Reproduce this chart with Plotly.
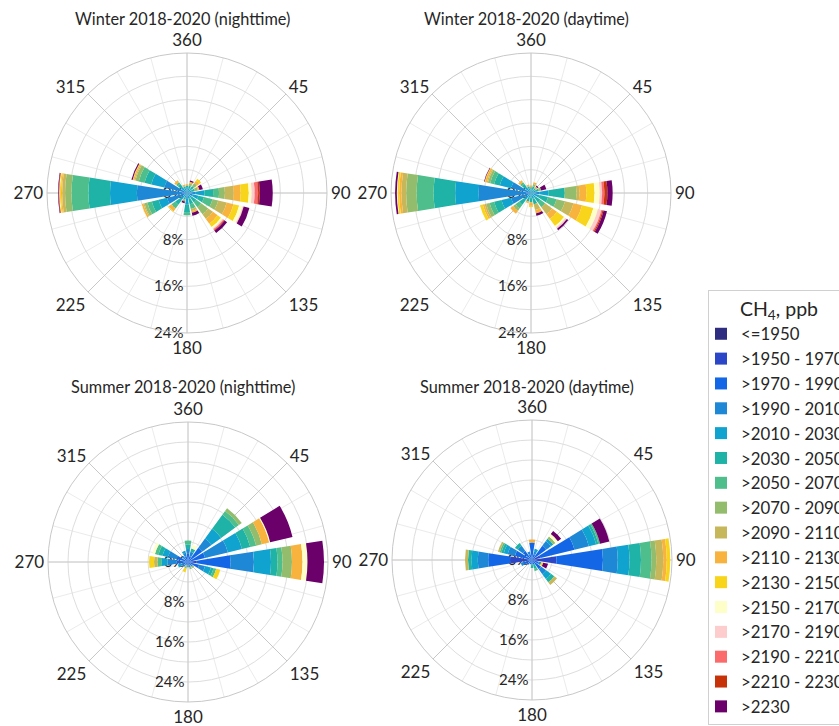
import plotly.graph_objects as go

W, H = 839, 726

DIRECTIONS = [0, 22.5, 45, 67.5, 90, 112.5, 135, 157.5,
              180, 202.5, 225, 247.5, 270, 292.5, 315, 337.5]

CLASSES = ["<=1950", ">1950 - 1970", ">1970 - 1990", ">1990 - 2010",
           ">2010 - 2030", ">2030 - 2050", ">2050 - 2070", ">2070 - 2090",
           ">2090 - 2110", ">2110 - 2130", ">2130 - 2150", ">2150 - 2170",
           ">2170 - 2190", ">2190 - 2210", ">2210 - 2230", ">2230"]

COLORS = ["#2e2d80", "#2b47c7", "#1367e6", "#1e88d6", "#11a3cf", "#1fb3a8",
          "#4dbe8c", "#93bd6c", "#c6b85a", "#f8b33e", "#f8d51b", "#fefec8",
          "#fdcccc", "#fb6b6b", "#c83208", "#6b006a"]

ANGLE_TICKS = [0, 45, 90, 135, 180, 225, 270, 315]
ANGLE_LABELS = ["360", "45", "90", "135", "180", "225", "270", "315"]
RADIAL_TICKS = [0, 8, 16, 24]
RADIAL_LABELS = ["0%", "8%", "16%", "24%"]
RADIAL_MAX = [24, 24, 28, 28]

TITLES = ["Winter 2018-2020 (nighttime)", "Winter 2018-2020 (daytime)",
          "Summer 2018-2020 (nighttime)", "Summer 2018-2020 (daytime)"]

# per direction: (class index, cumulative outer edge in %)
WINTER_NIGHT = [
    [(3, 0.6), (4, 1.0), (5, 1.3), (9, 1.5)],
    [(4, 0.8), (5, 1.3), (7, 1.7), (9, 2.0), (15, 2.2)],
    [(4, 0.8), (5, 1.5), (7, 2.1), (9, 2.6), (10, 3.0)],
    [(4, 0.8), (5, 1.4), (7, 1.9), (9, 2.2), (15, 2.8)],
    [(3, 1.5), (4, 3.0), (5, 4.5), (6, 5.5), (7, 6.5), (8, 8.0), (9, 9.2),
     (10, 10.6), (11, 11.1), (12, 11.6), (13, 12.2), (14, 12.5), (15, 14.7)],
    [(3, 1.0), (4, 2.0), (5, 3.0), (6, 4.5), (7, 5.5), (8, 7.0), (9, 8.2),
     (10, 9.2), (11, 9.8), (12, 10.0), (15, 11.0)],
    [(4, 1.0), (5, 2.0), (6, 3.0), (7, 4.5), (8, 5.5), (9, 6.5), (10, 7.2),
     (11, 7.5), (12, 7.7), (13, 7.9), (14, 8.0), (15, 8.5)],
    [(4, 1.0), (5, 2.0), (6, 2.8), (8, 3.2), (9, 3.5), (15, 4.0)],
    [(3, 1.0), (4, 2.0), (5, 3.4), (6, 3.8)],
    [(4, 0.8), (5, 1.2), (7, 1.5), (15, 1.8)],
    [(4, 1.5), (5, 2.5), (6, 3.3), (9, 3.9), (10, 4.0)],
    [(3, 3.5), (4, 5.0), (5, 6.2), (6, 7.0), (7, 7.5), (8, 7.7), (9, 8.0),
     (11, 8.1)],
    [(2, 0.8), (3, 8.6), (4, 13.2), (5, 16.9), (6, 19.8), (7, 20.9), (8, 21.4),
     (9, 21.6), (10, 21.8), (11, 21.9), (14, 22.0), (15, 22.1)],
    [(3, 4.0), (4, 6.3), (5, 7.5), (6, 8.5), (7, 9.1), (8, 9.3), (9, 9.5),
     (10, 9.6), (15, 9.8)],
    [(4, 1.2), (5, 1.9), (6, 2.3), (9, 2.7)],
    [(4, 0.8), (5, 1.2), (9, 1.5)],
]

WINTER_DAY = [
    [(4, 0.6), (5, 1.0), (9, 1.3)],
    [(4, 0.7), (5, 1.2), (7, 1.6), (9, 1.9)],
    [(4, 0.6), (5, 1.0), (9, 1.4), (15, 1.6)],
    [(4, 0.8), (5, 1.4), (7, 1.8), (15, 2.7)],
    [(3, 1.5), (4, 3.0), (5, 5.8), (7, 7.8), (8, 8.3), (9, 9.5), (10, 10.9),
     (11, 11.8), (12, 12.2), (13, 12.6), (14, 13.1), (15, 14.0)],
    [(4, 1.5), (5, 3.0), (6, 4.5), (7, 6.0), (8, 7.5), (9, 9.0), (10, 11.0),
     (11, 11.8), (12, 12.4), (13, 12.6), (14, 12.8), (15, 13.4)],
    [(4, 1.0), (5, 2.0), (6, 3.0), (8, 4.5), (9, 5.5), (10, 7.0), (11, 7.3),
     (12, 7.6), (15, 7.9)],
    [(4, 1.0), (5, 2.0), (8, 3.0), (9, 3.6), (15, 4.0)],
    [(4, 0.8), (5, 1.6), (9, 2.2), (10, 2.4)],
    [(4, 0.8), (5, 1.5), (9, 1.8)],
    [(4, 1.5), (5, 2.5), (6, 3.3), (7, 3.8), (9, 4.4)],
    [(3, 3.5), (4, 5.2), (5, 6.5), (6, 7.3), (7, 7.9), (8, 8.2), (9, 8.5),
     (10, 9.0)],
    [(2, 0.8), (3, 9.0), (4, 13.0), (5, 16.7), (6, 19.6), (7, 21.4), (8, 22.2),
     (9, 22.6), (10, 22.9), (11, 23.0), (15, 23.3)],
    [(3, 3.5), (4, 5.5), (5, 6.5), (6, 7.2), (7, 7.6), (8, 7.8), (9, 8.1),
     (10, 8.2), (15, 8.3)],
    [(4, 1.2), (5, 1.9), (6, 2.3), (9, 2.7)],
    [(4, 0.8), (5, 1.2), (9, 1.5)],
]

SUMMER_NIGHT = [
    [(2, 1.75), (3, 2.6), (5, 3.5), (6, 4.3)],
    [(2, 1.2), (3, 2.1), (5, 2.8), (11, 3.5)],
    [(2, 3.5), (3, 5.8), (4, 8.2), (5, 11.7), (6, 12.6), (7, 13.3)],
    [(2, 3.5), (3, 8.2), (4, 11.1), (5, 12.8), (6, 14.0), (7, 15.2), (9, 16.7),
     (11, 16.9), (15, 21.5)],
    [(1, 1.75), (2, 8.5), (3, 13.2), (4, 16.6), (5, 17.9), (6, 18.9),
     (7, 20.8), (9, 22.9), (11, 23.9), (15, 27.2)],
    [(2, 2.3), (3, 3.5), (4, 4.7), (5, 5.25), (6, 5.8), (10, 6.65)],
    [(2, 0.8), (3, 1.2), (7, 1.5)],
    [(2, 0.7), (3, 1.05), (7, 1.5)],
    [(2, 0.6), (3, 1.05)],
    [(2, 0.7), (7, 1.4), (10, 2.1)],
    [(2, 0.7), (3, 1.2)],
    [(2, 0.9), (3, 1.5), (4, 2.1)],
    [(2, 2.3), (3, 4.1), (4, 5.25), (6, 6.1), (8, 6.8), (10, 7.8)],
    [(2, 2.3), (3, 4.1), (4, 5.25), (5, 6.1), (6, 6.8), (11, 7.35)],
    [(2, 0.9), (3, 1.5)],
    [(2, 1.2), (3, 1.9), (4, 2.3)],
]

SUMMER_DAY = [
    [(2, 3.5), (9, 4.1)],
    [(2, 1.2), (3, 1.75), (4, 2.3)],
    [(2, 3.5), (3, 4.7), (4, 5.25), (7, 5.8), (11, 6.4), (15, 7.2)],
    [(1, 1.75), (2, 8.75), (3, 11.7), (4, 13.2), (5, 13.65), (6, 14.0),
     (15, 15.9)],
    [(0, 0.6), (1, 4.9), (2, 14.2), (3, 17.15), (4, 19.5), (5, 21.8),
     (6, 23.9), (7, 24.85), (8, 26.25), (9, 26.95), (10, 27.65)],
    [(2, 1.4), (3, 1.9), (10, 2.3), (15, 3.3)],
    [(2, 2.3), (3, 3.5), (4, 4.7), (5, 5.5), (8, 6.2)],
    [(2, 0.9), (5, 1.75), (6, 2.3)],
    [(2, 0.9), (5, 1.6)],
    [(2, 0.9)],
    [(2, 1.2)],
    [(2, 1.75), (3, 2.3)],
    [(1, 4.4), (2, 8.75), (3, 10.85), (4, 12.1), (5, 12.8), (8, 13.4)],
    [(2, 3.5), (3, 5.0), (4, 5.8), (5, 6.3), (6, 6.65), (8, 7.0)],
    [(2, 2.3), (3, 3.5), (5, 4.2)],
    [(2, 1.2), (3, 1.75)],
]

PANELS = [WINTER_NIGHT, WINTER_DAY, SUMMER_NIGHT, SUMMER_DAY]


def segments(panel):
    seg = [[0.0] * len(DIRECTIONS) for _ in CLASSES]
    for d, bands in enumerate(panel):
        prev = 0.0
        for c, edge in bands:
            seg[c][d] = round(edge - prev, 3)
            prev = edge
    return seg


# layout geometry (pixels): polar centre and radius, title position
CENTERS = [(187, 193), (531, 193), (188, 562), (532, 560)]
RADIUS = 140
TITLE_Y = [19, 19, 386, 386]

FONT = "Lato, 'Open Sans', sans-serif"
TEXT_COLOR = "#262626"

fig = go.Figure()
layout_polars = {}

for p, panel in enumerate(PANELS):
    back_id = "polar" if p == 0 else f"polar{2 * p + 1}"
    front_id = f"polar{2 * p + 2}"
    cx, cy = CENTERS[p]
    rmax = RADIAL_MAX[p]
    dom = dict(x=[(cx - RADIUS) / W, (cx + RADIUS) / W],
               y=[1 - (cy + RADIUS) / H, 1 - (cy - RADIUS) / H])

    # invisible trace to keep background polar alive
    fig.add_trace(go.Scatterpolar(r=[0], theta=[0], mode="markers",
                                  marker=dict(size=0.1, opacity=0),
                                  showlegend=False, hoverinfo="skip",
                                  subplot=back_id))
    seg = segments(panel)
    for c, name in enumerate(CLASSES):
        fig.add_trace(go.Barpolar(
            r=seg[c], theta=DIRECTIONS, width=18, name=name,
            marker=dict(color=COLORS[c], line=dict(width=0)),
            legendgroup=name, showlegend=(p == 0), subplot=front_id))

    layout_polars[back_id] = dict(
        domain=dom, bgcolor="white",
        angularaxis=dict(rotation=90, direction="clockwise",
                         tickvals=list(range(0, 360, 15)),
                         showticklabels=False, ticks="",
                         gridcolor="#ebebeb", gridwidth=1, showline=False),
        radialaxis=dict(range=[0, rmax],
                        tickvals=list(range(4, rmax, 4)),
                        showticklabels=False, ticks="", showline=False,
                        gridcolor="#dedede", gridwidth=1),
    )
    layout_polars[front_id] = dict(
        domain=dom, bgcolor="rgba(0,0,0,0)", barmode="stack",
        angularaxis=dict(rotation=90, direction="clockwise",
                         tickvals=ANGLE_TICKS, ticktext=ANGLE_LABELS,
                         ticks="", gridcolor="#c8c8c8", gridwidth=1,
                         showline=True, linecolor="#c8c8c8", linewidth=1,
                         tickfont=dict(size=17, color=TEXT_COLOR, family=FONT)),
        radialaxis=dict(range=[0, rmax], tickvals=RADIAL_TICKS,
                        ticktext=RADIAL_LABELS, angle=270, side="clockwise",
                        tickangle=-90,
                        showgrid=False, showline=False, ticks="",
                        layer="below traces",
                        tickfont=dict(size=15, color=TEXT_COLOR, family=FONT)),
    )
    fig.add_annotation(text=TITLES[p], xref="paper", yref="paper",
                       x=(cx - 5) / W, y=1 - TITLE_Y[p] / H,
                       xanchor="center", yanchor="middle", showarrow=False,
                       font=dict(size=16.3, color=TEXT_COLOR, family=FONT))

fig.update_layout(
    **layout_polars,
    width=W, height=H,
    margin=dict(l=0, r=0, t=0, b=0, autoexpand=False),
    paper_bgcolor="white",
    font=dict(family=FONT, color=TEXT_COLOR),
    legend=dict(x=708 / W, y=1 - 290 / H, xanchor="left", yanchor="top",
                bgcolor="white", bordercolor="#d0d0d0", borderwidth=1,
                indentation=-8,
                font=dict(size=16.8, color=TEXT_COLOR, family=FONT),
                tracegroupgap=0,
                title=dict(text="CH<sub>4</sub>, ppb", side="top center",
                           font=dict(size=19.5, color=TEXT_COLOR, family=FONT))),
)

fig.write_html("out.html", config={"displayModeBar": False},
               post_script="document.body.style.margin='0';")
